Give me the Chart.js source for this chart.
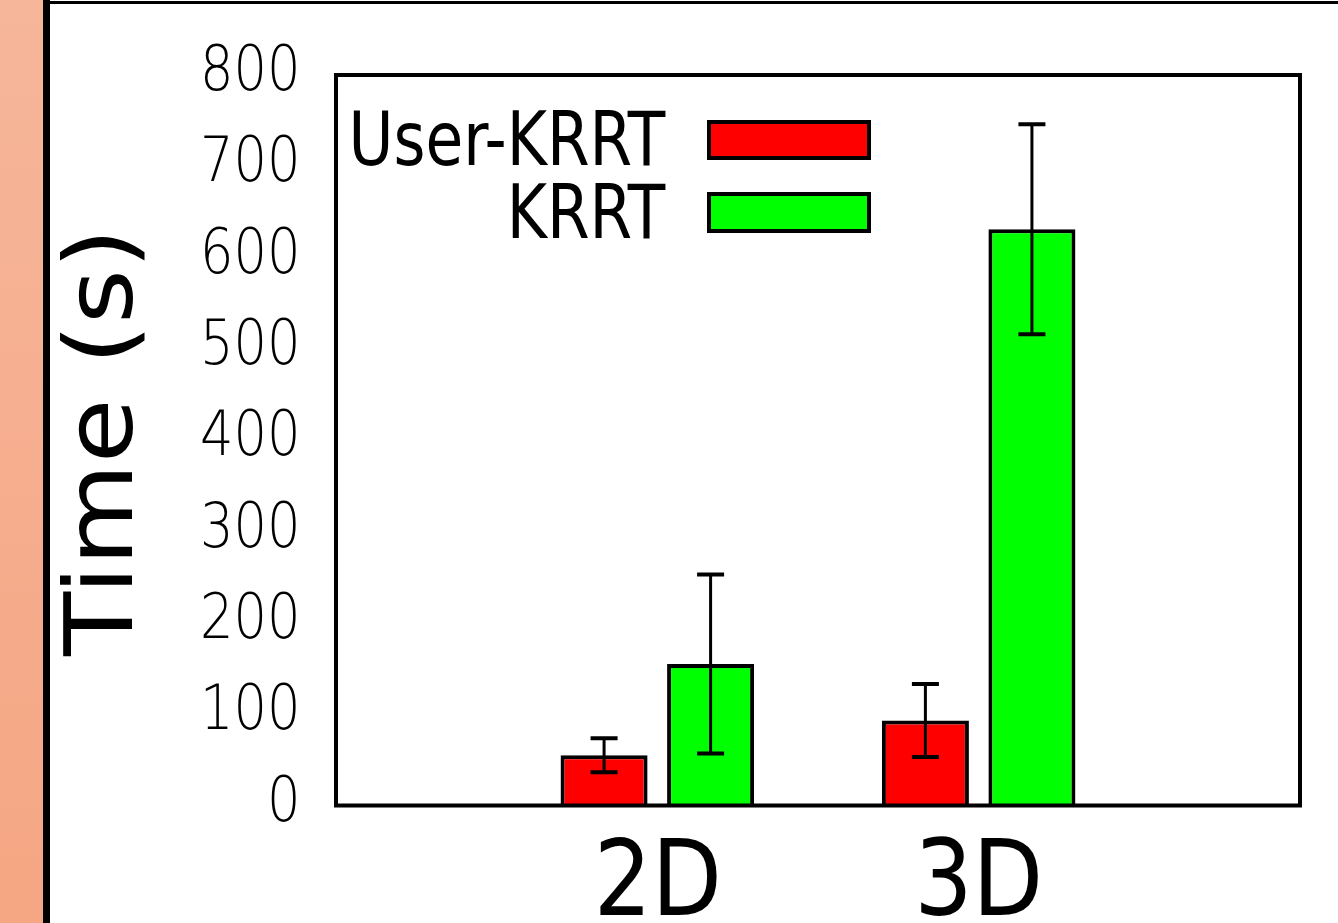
<!DOCTYPE html>
<html>
<head>
<meta charset="utf-8">
<script src="https://cdn.jsdelivr.net/npm/chart.js@4/dist/chart.umd.min.js"></script>
<style>
  html, body { margin: 0; padding: 0; background: #fff; }
  body { width: 1338px; height: 923px; position: relative; overflow: hidden; }
  #strip { position: absolute; left: 0; top: 0; width: 43px; height: 923px; background: linear-gradient(#f6b69a, #f5a683); }
  #vline { position: absolute; left: 43px; top: 0; width: 7px; height: 923px; background: #000; }
  #hline { position: absolute; left: 46px; top: 1px; width: 1292px; height: 3px; background: #000; }
  #wrap { position: absolute; left: 0; top: 0; width: 1338px; height: 923px; }
</style>
</head>
<body>
<div id="strip"></div>
<div id="vline"></div>
<div id="hline"></div>
<div id="wrap"><canvas id="myChart" width="1338" height="923"></canvas></div>
<script>
// data
var categories = ["2D", "3D"];
var seriesNames = ["User-KRRT", "KRRT"];
var userKrrt = [55, 93];
var userKrrtErr = [18.6, 40];
var krrt = [155, 631];
var krrtErr = [98, 115];
var yTicks = [0, 100, 200, 300, 400, 500, 600, 700, 800];

// empty slots either side so the two groups sit at 1/3 and 2/3 of the box
var labels = [""].concat(categories).concat([""]);
function pad(arr) { return [null].concat(arr).concat([null]); }

// draws text squeezed (or stretched) sideways, like the original figure
function drawFit(ctx, txt, x, y, font, opts) {
  ctx.font = font;
  ctx.textAlign = "left";
  var m = ctx.measureText(txt);
  var l = m.actualBoundingBoxLeft, r = m.actualBoundingBoxRight;
  var s = opts.w ? opts.w / (l + r) : opts.sx;
  var tx;
  if (opts.align == "right") tx = x - r * s;
  else if (opts.align == "center") tx = x - s * (r - l) / 2;
  else tx = x + l * s;
  ctx.save();
  ctx.translate(tx, y);
  ctx.scale(s, 1);
  ctx.fillText(txt, 0, 0);
  ctx.restore();
}

var extras = {
  id: "extras",
  afterDatasetsDraw: function(chart) {
    var ctx = chart.ctx;
    var ys = chart.scales.y;
    var errs = [userKrrtErr, krrtErr];
    ctx.save();
    ctx.strokeStyle = "#000";
    chart.data.datasets.forEach(function(ds, d) {
      var meta = chart.getDatasetMeta(d);
      for (var i = 0; i < categories.length; i++) {
        var bar = meta.data[i + 1];
        var v = ds.data[i + 1];
        var top = ys.getPixelForValue(v + errs[d][i]);
        var bot = ys.getPixelForValue(v - errs[d][i]);
        ctx.lineWidth = 3;
        ctx.beginPath();
        ctx.moveTo(bar.x, top);
        ctx.lineTo(bar.x, bot);
        ctx.stroke();
        ctx.lineWidth = 4;
        ctx.beginPath();
        ctx.moveTo(bar.x - 13.5, top); ctx.lineTo(bar.x + 13.5, top);
        ctx.moveTo(bar.x - 13.5, bot); ctx.lineTo(bar.x + 13.5, bot);
        ctx.stroke();
      }
    });
    ctx.restore();
  },
  afterDraw: function(chart) {
    var ctx = chart.ctx;
    var a = chart.chartArea;
    var xs = chart.scales.x, ys = chart.scales.y;
    ctx.save();
    // plot box
    ctx.strokeStyle = "#000";
    ctx.lineWidth = 4;
    ctx.strokeRect(a.left, a.top, a.right - a.left, a.bottom - a.top);

    ctx.fillStyle = "#000";
    // y tick labels
    ctx.textBaseline = "middle";
    yTicks.forEach(function(t) {
      drawFit(ctx, String(t), 296, ys.getPixelForValue(t) - 1, '200 62px "DejaVu Sans"', {align: "right", sx: 0.85});
    });

    // category labels
    ctx.textBaseline = "alphabetic";
    chart.data.labels.forEach(function(lab, i) {
      if (!lab) return;
      drawFit(ctx, lab, xs.getPixelForTick(i) + 1, 915, '105px "DejaVu Sans"', {align: "center", w: 117});
    });

    // y axis title
    ctx.save();
    ctx.translate(132, 447);
    ctx.rotate(-Math.PI / 2);
    drawFit(ctx, "Time (s)", 0, 0, '95px "DejaVu Sans"', {align: "center", w: 420});
    ctx.restore();

    // legend: text then a box, inside the plot
    var rows = [{base: 165, y0: 120, y1: 160}, {base: 238, y0: 192, y1: 233}];
    chart.data.datasets.forEach(function(ds, d) {
      var r = rows[d];
      ctx.fillStyle = "#000";
      drawFit(ctx, ds.label, 666, r.base, '74px "DejaVu Sans"', {align: "right", sx: 0.83});
      ctx.fillStyle = ds.backgroundColor;
      ctx.fillRect(707, r.y0, 164, r.y1 - r.y0);
      ctx.lineWidth = 4;
      ctx.strokeRect(709, r.y0 + 2, 160, r.y1 - r.y0 - 4);
    });
    ctx.restore();
  }
};

var ctx = document.getElementById("myChart").getContext("2d");
var chart = new Chart(ctx, {
  type: "bar",
  data: {
    labels: labels,
    datasets: [
      {
        label: seriesNames[0],
        data: pad(userKrrt),
        backgroundColor: "#ff0000",
        borderColor: "#000",
        borderWidth: 4
      },
      {
        label: seriesNames[1],
        data: pad(krrt),
        backgroundColor: "#00ff00",
        borderColor: "#000",
        borderWidth: 4
      }
    ]
  },
  options: {
    responsive: false,
    animation: false,
    devicePixelRatio: 1,
    events: [],
    categoryPercentage: 0.663,
    barPercentage: 0.817,
    layout: { padding: { left: 336, right: 38, top: 75, bottom: 117.5 } },
    scales: {
      x: { display: false, offset: false },
      y: { display: false, min: 0, max: 800 }
    },
    plugins: {
      legend: { display: false },
      tooltip: { enabled: false }
    }
  },
  plugins: [extras]
});
</script>
</body>
</html>
